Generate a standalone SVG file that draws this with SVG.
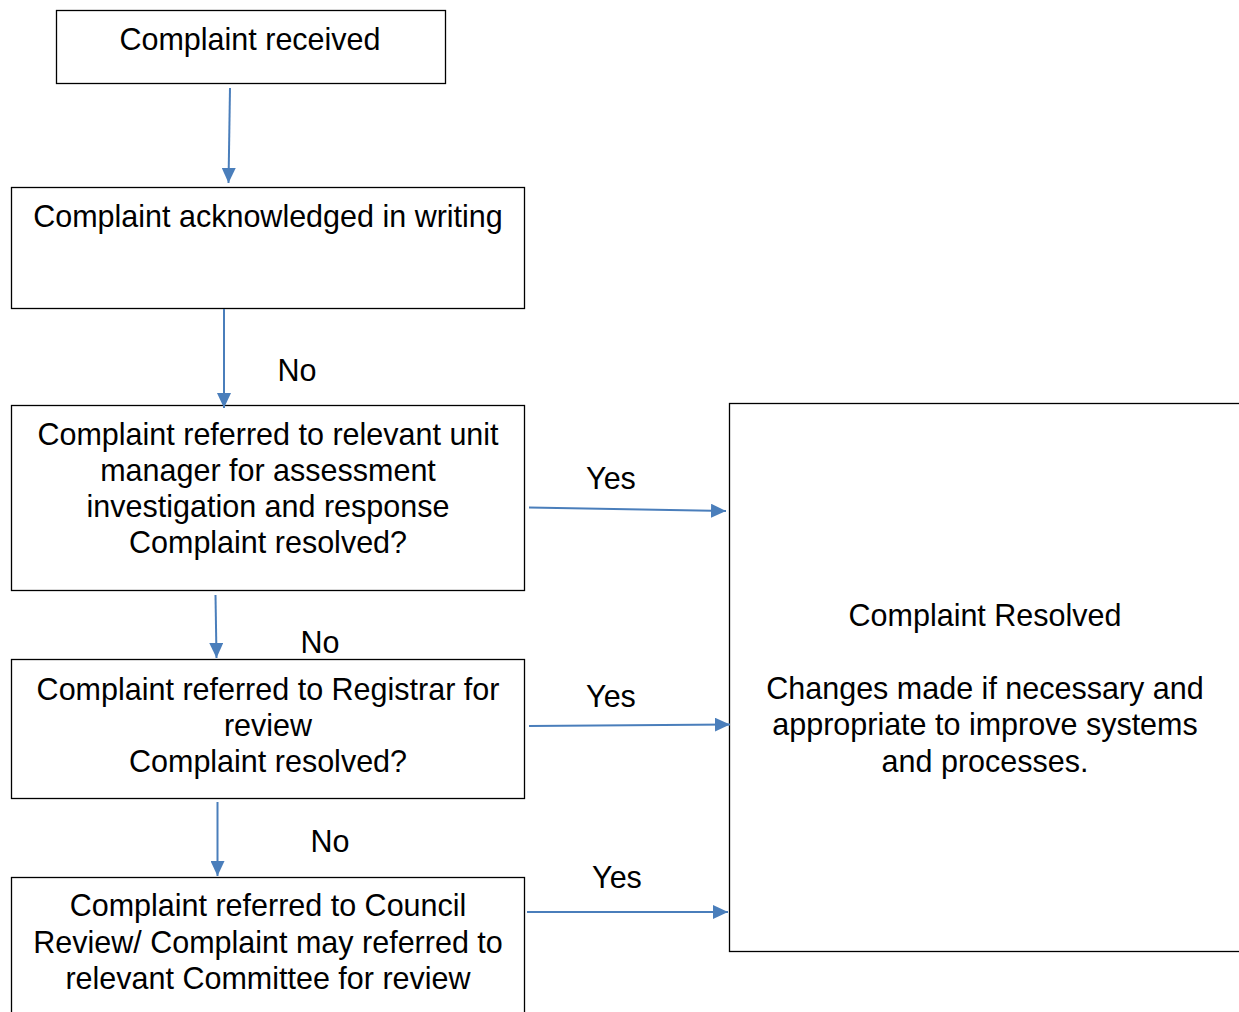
<svg xmlns="http://www.w3.org/2000/svg" width="1239" height="1012" viewBox="0 0 1239 1012">
<defs>
<style>
.box{fill:#fff;stroke:#000;stroke-width:1.3}
.t{font-family:"Liberation Sans",Arial,sans-serif;font-size:30.5px;fill:#000;text-anchor:middle}
.c{stroke:#4a7ebb;stroke-width:2;fill:none;marker-end:url(#ah)}
</style>
<marker id="ah" markerUnits="userSpaceOnUse" markerWidth="16" markerHeight="14" refX="15" refY="7" orient="auto">
<path d="M0,0 L15,7 L0,14 Z" fill="#4a7ebb"/>
</marker>
</defs>
<rect width="1239" height="1012" fill="#fff"/>
<g id="n1"><rect class="box" x="56.5" y="10.5" width="389" height="73"/>
<text class="t" x="250" y="50">Complaint received</text></g>
<g id="n2"><rect class="box" x="11.5" y="187.5" width="513" height="121"/>
<text class="t" x="268" y="227">Complaint acknowledged in writing</text></g>
<g id="n3"><rect class="box" x="11.5" y="405.5" width="513" height="185"/>
<text class="t" x="268" y="445">Complaint referred to relevant unit</text>
<text class="t" x="268" y="481">manager for assessment</text>
<text class="t" x="268" y="517">investigation and response</text>
<text class="t" x="268" y="553">Complaint resolved?</text></g>
<g id="n4"><rect class="box" x="11.5" y="659.5" width="513" height="139"/>
<text class="t" x="268" y="700">Complaint referred to Registrar for</text>
<text class="t" x="268" y="736">review</text>
<text class="t" x="268" y="772">Complaint resolved?</text></g>
<g id="n5"><rect class="box" x="11.5" y="877.5" width="513" height="140"/>
<text class="t" x="268" y="916">Complaint referred to Council</text>
<text class="t" x="268" y="953">Review/ Complaint may referred to</text>
<text class="t" x="268" y="989">relevant Committee for review</text></g>
<g id="n6"><rect class="box" x="729.5" y="403.5" width="520" height="548"/>
<text class="t" x="985" y="626">Complaint Resolved</text>
<text class="t" x="985" y="699">Changes made if necessary and</text>
<text class="t" x="985" y="735">appropriate to improve systems</text>
<text class="t" x="985" y="772">and processes.</text></g>
<g id="connectors">
<line class="c" x1="230" y1="88" x2="228.5" y2="183"/>
<line class="c" x1="224" y1="309" x2="224" y2="408"/>
<line class="c" x1="529" y1="507.5" x2="726" y2="511"/>
<line class="c" x1="215.5" y1="595" x2="216.5" y2="658"/>
<line class="c" x1="529" y1="726" x2="730" y2="724.5"/>
<line class="c" x1="217.5" y1="802" x2="217.5" y2="876"/>
<line class="c" x1="527" y1="912" x2="728" y2="912"/>
<text class="t" x="297" y="381">No</text>
<text class="t" x="611" y="489">Yes</text>
<text class="t" x="320" y="653">No</text>
<text class="t" x="611" y="707">Yes</text>
<text class="t" x="330" y="852">No</text>
<text class="t" x="617" y="888">Yes</text>
</g>
</svg>
